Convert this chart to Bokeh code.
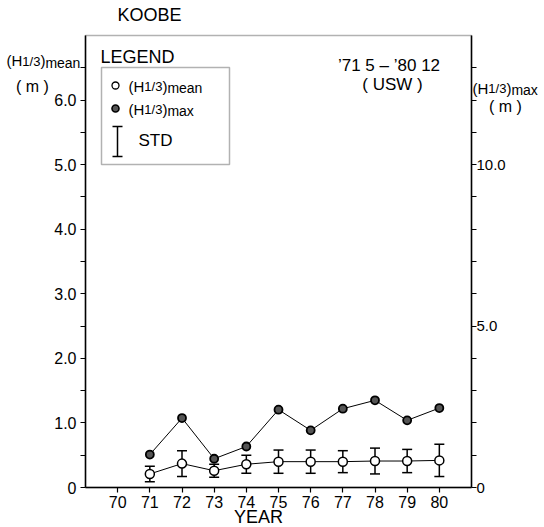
from bokeh.plotting import figure
from bokeh.models import (Range1d, LinearAxis, FixedTicker, Label, Whisker, TeeHead,
                          ColumnDataSource, BoxAnnotation)
from bokeh.embed import file_html
from bokeh.resources import INLINE

# ---------------- data ----------------
years = [71, 72, 73, 74, 75, 76, 77, 78, 79, 80]
h_mean = [0.21, 0.37, 0.26, 0.36, 0.40, 0.40, 0.40, 0.41, 0.41, 0.42]
h_std = [0.12, 0.20, 0.10, 0.14, 0.18, 0.18, 0.17, 0.20, 0.18, 0.25]
h_max = [1.02, 2.15, 0.89, 1.27, 2.41, 1.77, 2.44, 2.70, 2.08, 2.46]

year_ticks = [70, 71, 72, 73, 74, 75, 76, 77, 78, 79, 80]
left_ticks = [0, 1, 2, 3, 4, 5, 6]
left_labels = ["0", "1.0", "2.0", "3.0", "4.0", "5.0", "6.0"]
right_ticks = [0, 5, 10]
right_labels = ["0", "5.0", "10.0"]

FONT = "Liberation Sans"

# ---------------- layout (pixels) ----------------
W_PX, H_PX = 544, 527
AX_L, AX_R, AX_T, AX_B = 85, 471, 35, 487          # axis box in canvas pixels
X0, X1, Y0, Y1 = 69, 81, 0, 7                      # axis box in data units
kx = (X1 - X0) / (AX_R - AX_L)
ky = (Y1 - Y0) / (AX_B - AX_T)
xr = Range1d(X0 - AX_L * kx, X1 + (W_PX - AX_R) * kx)
yr_ = Range1d(Y0 - (H_PX - AX_B) * ky, Y1 + AX_T * ky)


def px_x(px):
    return X0 + (px - AX_L) * kx


def px_y(py):
    return Y0 + (AX_B - py) * ky


p = figure(width=W_PX, height=H_PX, output_backend="svg", toolbar_location=None,
           x_range=xr, y_range=yr_, title=None, min_border=0)
p.extra_y_ranges = {"max": Range1d(yr_.start * 2, yr_.end * 2)}
p.xgrid.visible = False
p.ygrid.visible = False
p.outline_line_color = None
p.background_fill_color = "white"
p.border_fill_color = "white"


def style_axis(ax, size="16px"):
    ax.axis_line_color = "black"
    ax.axis_line_width = 1.5
    ax.major_tick_line_color = "black"
    ax.minor_tick_line_color = "black"
    ax.major_tick_line_width = 1.2
    ax.minor_tick_line_width = 1.2
    ax.major_tick_out = 5
    ax.major_tick_in = 0
    ax.minor_tick_out = 5
    ax.minor_tick_in = 0
    ax.major_label_text_font = FONT
    ax.major_label_text_font_size = size
    ax.major_label_text_color = "black"
    ax.major_label_standoff = 3


yl = p.yaxis[0]
yl.fixed_location = X0
yl.bounds = (Y0, Y1)
yl.ticker = FixedTicker(ticks=left_ticks, minor_ticks=[t + 0.5 for t in left_ticks])
yl.major_label_overrides = {t: s for t, s in zip(left_ticks, left_labels)}
style_axis(yl)
yl.major_label_standoff = 4

yr = LinearAxis(y_range_name="max", fixed_location=X1, bounds=(2 * Y0, 2 * Y1),
                ticker=FixedTicker(ticks=right_ticks,
                                   minor_ticks=[v for v in range(1, 14) if v not in right_ticks]))
yr.major_label_overrides = {t: s for t, s in zip(right_ticks, right_labels)}
style_axis(yr, "15px")
yr.major_label_standoff = 0
p.add_layout(yr, "right")

xa = p.xaxis[0]
xa.fixed_location = Y0
xa.bounds = (X0, X1)
xa.ticker = FixedTicker(ticks=year_ticks, minor_ticks=[])
style_axis(xa)

# box edges (top edge of the frame)
p.add_layout(BoxAnnotation(left=X0, right=X1, bottom=Y0, top=Y1,
                           fill_alpha=0, line_color="black", line_width=1.5))

# ---------------- series ----------------
p.line(years, h_max, y_range_name="max", line_color="black", line_width=1)
p.scatter(years, h_max, y_range_name="max", size=8, fill_color="#555555",
          line_color="black", line_width=1.8)

src = ColumnDataSource(dict(
    x=years, y=h_mean,
    upper=[m + s for m, s in zip(h_mean, h_std)],
    lower=[m - s for m, s in zip(h_mean, h_std)]))
p.line("x", "y", source=src, line_color="black", line_width=1)
p.add_layout(Whisker(base="x", upper="upper", lower="lower", source=src,
                     line_color="black", line_width=1.5,
                     upper_head=TeeHead(size=10, line_width=1.5, line_color="black"),
                     lower_head=TeeHead(size=10, line_width=1.5, line_color="black")))
p.scatter("x", "y", source=src, size=9, fill_color="white", line_color="black", line_width=1.5)

# ---------------- text helpers (positions given in canvas pixels) ----------------
W = {'(': 333, ')': 333, 'H': 722, '1': 556, '/': 278, '3': 556, 'm': 833, 'e': 556,
     'a': 556, 'n': 556, 'x': 500, ' ': 278}


def tw(s, size):
    return sum(W.get(c, 556) for c in s) * size / 1000.0


def label(px, py, text, size, align="left"):
    p.add_layout(Label(x=px_x(px), y=px_y(py), text=text, text_font=FONT,
                       text_font_size=f"{size}px", text_align=align,
                       text_baseline="middle", text_color="black"))


def rich(px, py, pieces):
    off = 0.0
    for t, s, dy in pieces:
        label(px + off, py + dy, t, s)
        off += tw(t, s)


def hlabel(kind):
    # (text, font px, vertical drop px) -- "1/3" on the H baseline, suffix slightly lower
    return [("(H", 15, 0), ("1/3", 13, 0.7), (")", 15, 0), (kind, 14, 2.0)]


# titles / axis titles
label(117, 14.5, "KOOBE", 18)
rich(6, 60, hlabel("mean"))
label(32, 85.5, "( m )", 16, align="center")
rich(472, 87.5, hlabel("max"))
label(505, 106, "( m )", 16, align="center")
label(258, 516, "YEAR", 18, align="center")

# period note
label(388.5, 64.5, "\u201971 5 \u2013 \u201980 12", 17, align="center")
label(392, 84, "( USW )", 17, align="center")

# ---------------- legend ----------------
label(100, 56.5, "LEGEND", 18)
p.add_layout(BoxAnnotation(left=px_x(101), right=px_x(229), top=px_y(67), bottom=px_y(164),
                           fill_alpha=0, line_color="black", line_width=1.5))
p.scatter([px_x(115)], [px_y(85)], size=7, fill_color="white", line_color="black",
          line_width=1.3)
rich(128, 85.5, hlabel("mean"))
p.scatter([px_x(115)], [px_y(108)], size=7, fill_color="#555555", line_color="black",
          line_width=1.6)
rich(128, 108.5, hlabel("max"))
leg_src = ColumnDataSource(dict(x=[px_x(117)], lo=[px_y(156)], hi=[px_y(126)]))
p.add_layout(Whisker(base="x", upper="hi", lower="lo", source=leg_src,
                     line_color="black", line_width=1.5,
                     upper_head=TeeHead(size=10, line_width=1.5, line_color="black"),
                     lower_head=TeeHead(size=10, line_width=1.5, line_color="black")))
label(138, 140, "STD", 17)

open("out.html", "w").write(file_html(p, INLINE))
